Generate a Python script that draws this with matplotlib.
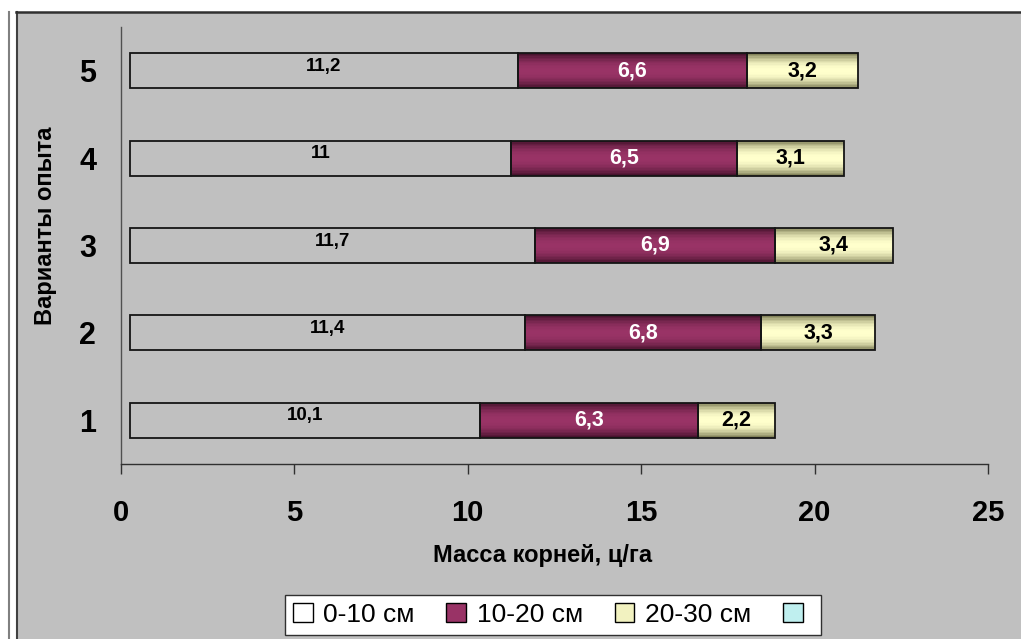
import numpy as np
import matplotlib.pyplot as plt
from matplotlib.patches import Rectangle, Patch
from matplotlib.lines import Line2D

plt.rcParams['font.family'] = ['Liberation Sans', 'DejaVu Sans']

# данные
variants = ['1', '2', '3', '4', '5']
layer_0_10 = [10.1, 11.4, 11.7, 11.0, 11.2]
layer_10_20 = [6.3, 6.8, 6.9, 6.5, 6.6]
layer_20_30 = [2.2, 3.3, 3.4, 3.1, 3.2]
labels_0_10 = ['10,1', '11,4', '11,7', '11', '11,2']
labels_10_20 = ['6,3', '6,8', '6,9', '6,5', '6,6']
labels_20_30 = ['2,2', '3,3', '3,4', '3,1', '3,2']
legend_names = ['0-10 см', '10-20 см', '20-30 см', '']
start = 0.25   # bars start a bit right of zero, as in the original

bg = '#C0C0C0'
purple = np.array([0x99, 0x33, 0x66]) / 255
purple_dark = np.array([0x40, 0x10, 0x28]) / 255
cream = np.array([0xFF, 0xFF, 0xCC]) / 255
cream_dark = np.array([0x78, 0x78, 0x50]) / 255

fig = plt.figure(figsize=(10.21, 6.39), dpi=100)

# рамка и серый фон области диаграммы
fig.patches.append(Rectangle((17 / 1021, 0), 1, 1 - 13 / 639, transform=fig.transFigure,
                             facecolor=bg, edgecolor='none', zorder=-3))
fig.lines.append(Line2D([8.5 / 1021, 8.5 / 1021], [0, 1 - 12 / 639], transform=fig.transFigure,
                        color='#808080', lw=1.5))
fig.lines.append(Line2D([16.5 / 1021, 16.5 / 1021], [0, 1 - 12 / 639], transform=fig.transFigure,
                        color='#404040', lw=1.5))
fig.lines.append(Line2D([16 / 1021, 1], [1 - 12 / 639, 1 - 12 / 639], transform=fig.transFigure,
                        color='#303030', lw=1.8))

ax = fig.add_axes([121 / 1021, 1 - 464 / 639, 867 / 1021, 437 / 639])
ax.set_facecolor('none')

y = np.arange(len(variants))
h = 0.4
left1 = np.full(len(variants), start)
left2 = left1 + np.array(layer_0_10)
left3 = left2 + np.array(layer_10_20)

# шейдинг: бар режется на тонкие горизонтальные полоски
n = 24
for k in range(n):
    c = (k + 0.5) / n
    tt = abs(2 * c - 1) ** 2.2
    off = -h / 2 + k * h / n
    col2 = purple * (1 - tt) + purple_dark * tt
    col3 = cream * (1 - tt) + cream_dark * tt
    ax.barh(y + off, layer_10_20, left=left2, height=h / n * 1.05, align='edge',
            color=col2, lw=0, zorder=2)
    ax.barh(y + off, layer_20_30, left=left3, height=h / n * 1.05, align='edge',
            color=col3, lw=0, zorder=2)

ax.barh(y, layer_0_10, left=left1, height=h, facecolor='none', edgecolor='#151515', lw=1.3, zorder=3)
ax.barh(y, layer_10_20, left=left2, height=h, facecolor='none', edgecolor='#151515', lw=1.3, zorder=3)
ax.barh(y, layer_20_30, left=left3, height=h, facecolor='none', edgecolor='#151515', lw=1.3, zorder=3)

for i in range(len(variants)):
    ax.text(left1[i] + layer_0_10[i] / 2, y[i] + 0.05, labels_0_10[i], ha='center', va='center',
            fontsize=13.5, fontweight='bold', color='black', zorder=4)
    ax.text(left2[i] + layer_10_20[i] / 2, y[i], labels_10_20[i], ha='center', va='center',
            fontsize=15.5, fontweight='bold', color='white', zorder=4)
    ax.text(left3[i] + layer_20_30[i] / 2, y[i], labels_20_30[i], ha='center', va='center',
            fontsize=15.5, fontweight='bold', color='black', zorder=4)

ax.set_xlim(0, 25)
ax.set_ylim(-0.5, 4.5)
ax.set_xticks([0, 5, 10, 15, 20, 25])
ax.set_yticks(y)
ax.set_yticklabels(variants)
ax.tick_params(axis='x', direction='out', length=7.5, width=1, color='#303030', pad=18, labelsize=21)
ax.tick_params(axis='y', length=0, pad=18, labelsize=22)
for lab in ax.get_xticklabels() + ax.get_yticklabels():
    lab.set_fontweight('bold')

for s in ['top', 'right']:
    ax.spines[s].set_visible(False)
ax.spines['left'].set_color('#505050')
ax.spines['bottom'].set_color('#303030')
ax.spines['left'].set_linewidth(1)
ax.spines['bottom'].set_linewidth(1)

ax.set_xlabel('Масса корней, ц/га', fontsize=17, fontweight='bold')
ax.xaxis.set_label_coords(0.486, -0.183)
ax.set_ylabel('Варианты опыта', fontsize=17, fontweight='bold')
ax.yaxis.set_label_coords(-0.074, 0.545)

handles = [
    Patch(facecolor='white', edgecolor='black', lw=1),
    Patch(facecolor='#993366', edgecolor='black', lw=1),
    Patch(facecolor='#F2F2C0', edgecolor='black', lw=1),
    Patch(facecolor='#BFEFEF', edgecolor='black', lw=1),
]
leg = fig.legend(handles, legend_names, loc='upper center', bbox_to_anchor=(553 / 1021, 1 - 595 / 639),
                 ncol=4, fontsize=19, frameon=True, fancybox=False, edgecolor='#303030',
                 handlelength=0.75, handleheight=0.75, handletextpad=0.4, columnspacing=1.2,
                 borderpad=0.3, borderaxespad=0)
leg.get_frame().set_linewidth(1)
leg.get_frame().set_facecolor('white')
leg.get_frame().set_alpha(1)

fig.savefig('out.png', dpi=100)
